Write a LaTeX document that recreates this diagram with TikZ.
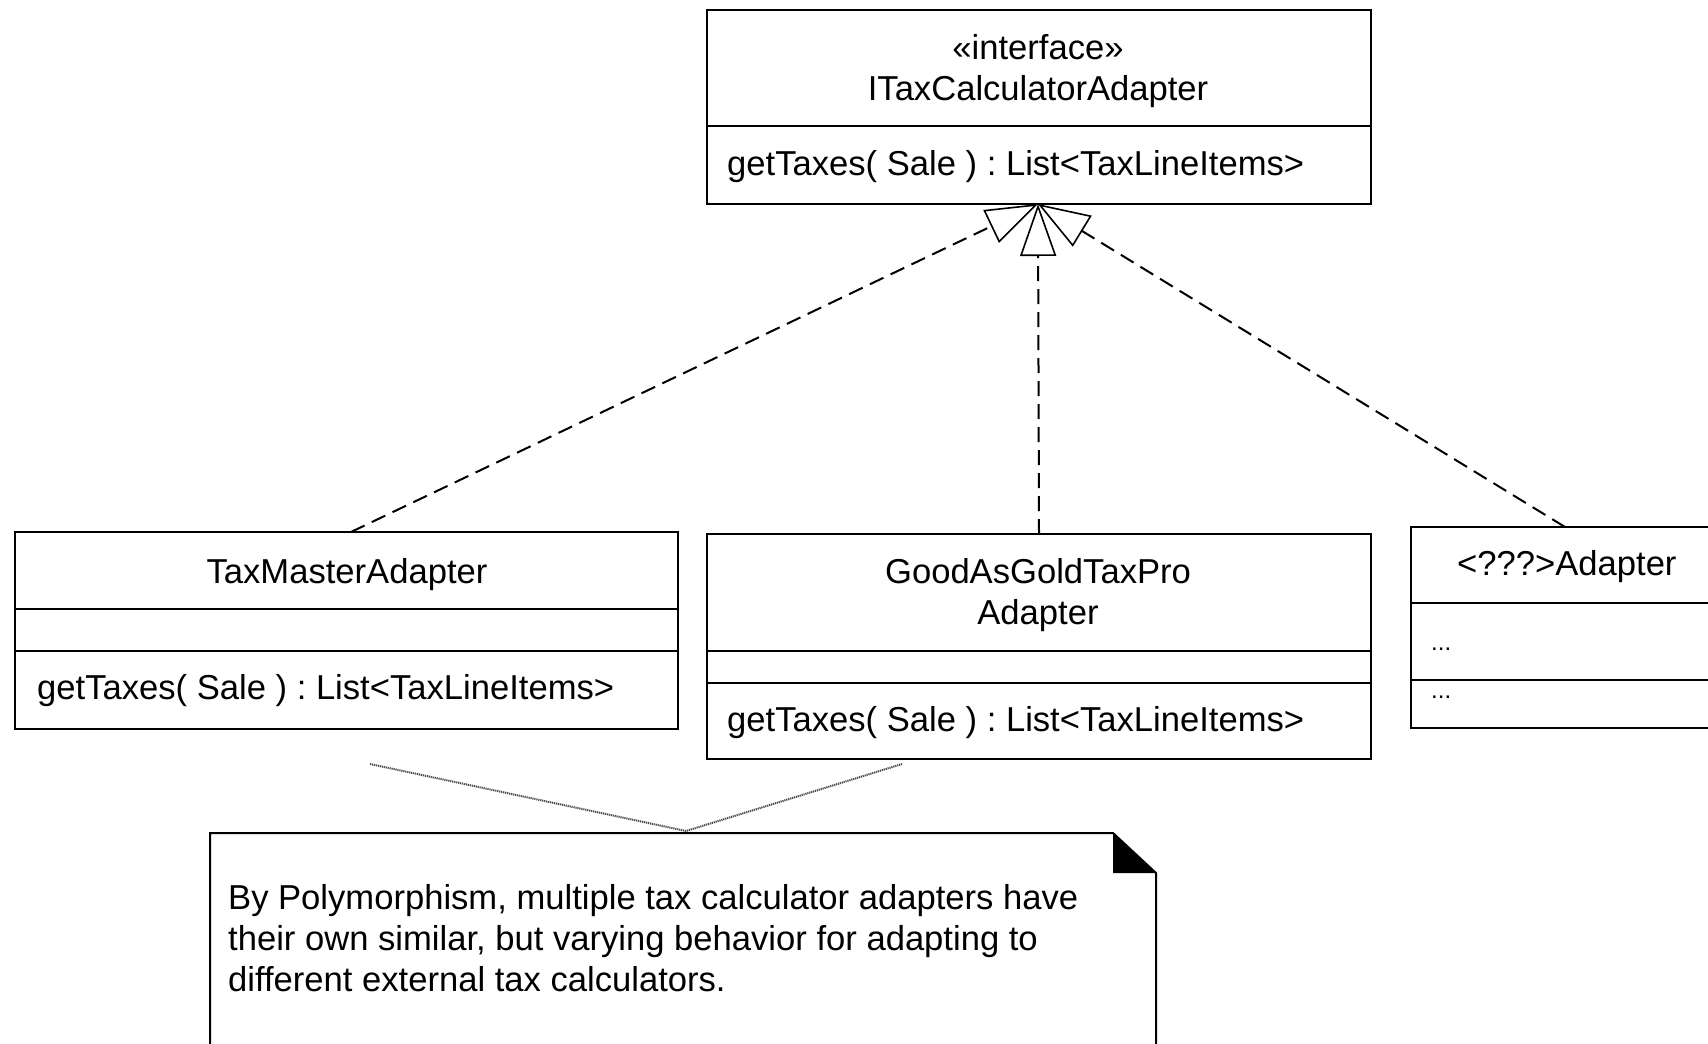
\documentclass[tikz,border=0pt]{standalone}
\usepackage{fontspec}
\setmainfont{Liberation Sans}
\usetikzlibrary{arrows.meta}
\frenchspacing
\begin{document}
\begin{tikzpicture}[x=1pt,y=-1pt,
  box/.style={draw, line width=2pt, anchor=north west, inner sep=0pt, outer sep=0pt},
  txt/.style={font=\fontsize{34.6}{41}\selectfont, inner sep=0pt},
  divider/.style={line width=2pt},
  real/.style={line width=2pt, dash pattern=on 15pt off 8pt,
    -{Triangle[open, length=52pt, width=36pt, line width=1.6pt]}},
  annot/.style={line width=2pt, black!70, dash pattern=on 1.2pt off 0.8pt}
  ]
\clip (0,0) rectangle (1708,1044);
\fill[white] (0,0) rectangle (1708,1044);

% interface box
\node[box, minimum width=664pt, minimum height=194pt] (iface) at (707,10) {};
\draw[divider] (707,126) -- (1371,126);
\node[txt, anchor=base] (ifst) at (1038,59) {«interface»};
\node[txt, anchor=base] (ifname) at (1038,100) {ITaxCalculatorAdapter};
\node[txt, anchor=base west] (ifop) at (727,175) {getTaxes( Sale ) : List<TaxLineItems>};

% TaxMasterAdapter
\node[box, minimum width=663pt, minimum height=197pt] (tm) at (15,532) {};
\draw[divider] (15,609) -- (678,609);
\draw[divider] (15,651) -- (678,651);
\node[txt, anchor=base] (tmname) at (347,583) {TaxMasterAdapter};
\node[txt, anchor=base west] (tmop) at (37,699) {getTaxes( Sale ) : List<TaxLineItems>};

% GoodAsGoldTaxProAdapter
\node[box, minimum width=664pt, minimum height=225pt] (gg) at (707,534) {};
\draw[divider] (707,651) -- (1371,651);
\draw[divider] (707,683) -- (1371,683);
\node[txt, anchor=base] (ggname1) at (1038,583) {GoodAsGoldTaxPro};
\node[txt, anchor=base] (ggname2) at (1038,624) {Adapter};
\node[txt, anchor=base west] (ggop) at (727,731) {getTaxes( Sale ) : List<TaxLineItems>};

% <???>Adapter
\node[box, minimum width=320pt, minimum height=201pt] (qq) at (1411,527) {};
\draw[divider] (1411,603) -- (1731,603);
\draw[divider] (1411,680) -- (1731,680);
\node[txt, anchor=base west] (qqname) at (1457,575) {<???>Adapter};
\node[txt, anchor=base west, font=\fontsize{24}{30}\selectfont] (qqattr) at (1431,650) {...};
\node[txt, anchor=base west, font=\fontsize{24}{30}\selectfont] (qqop) at (1431,698) {...};

% realizations
\coordinate (tip) at (1038,204);
\coordinate (tmtop) at (351,532);
\coordinate (qqtop) at (1565,527);
\draw[real] (tmtop) -- (tip);
\draw[real] (gg.north) -- (tip);
\draw[real] (qqtop) -- (tip);

% note
\node[anchor=north west, minimum width=946pt, minimum height=230pt, inner sep=0pt] (note) at (210,833) {};
\draw[line width=2pt, line join=miter] (210,1070) -- (210,833) -- (1113,833) -- (1156,873) -- (1156,1070);
\fill (1113,833) -- (1156,873) -- (1113,873) -- cycle;
\node[txt, anchor=base west, align=left] (notetext) at (228,991)
  {By Polymorphism, multiple tax calculator adapters have\\their own similar, but varying behavior for adapting to\\different external tax calculators.};

\coordinate (a1) at (370,764);
\coordinate (a2) at (902,764);
\coordinate (aj) at (686,831);
\draw[annot] (a1) -- (aj) -- (a2);
\end{tikzpicture}
\end{document}
